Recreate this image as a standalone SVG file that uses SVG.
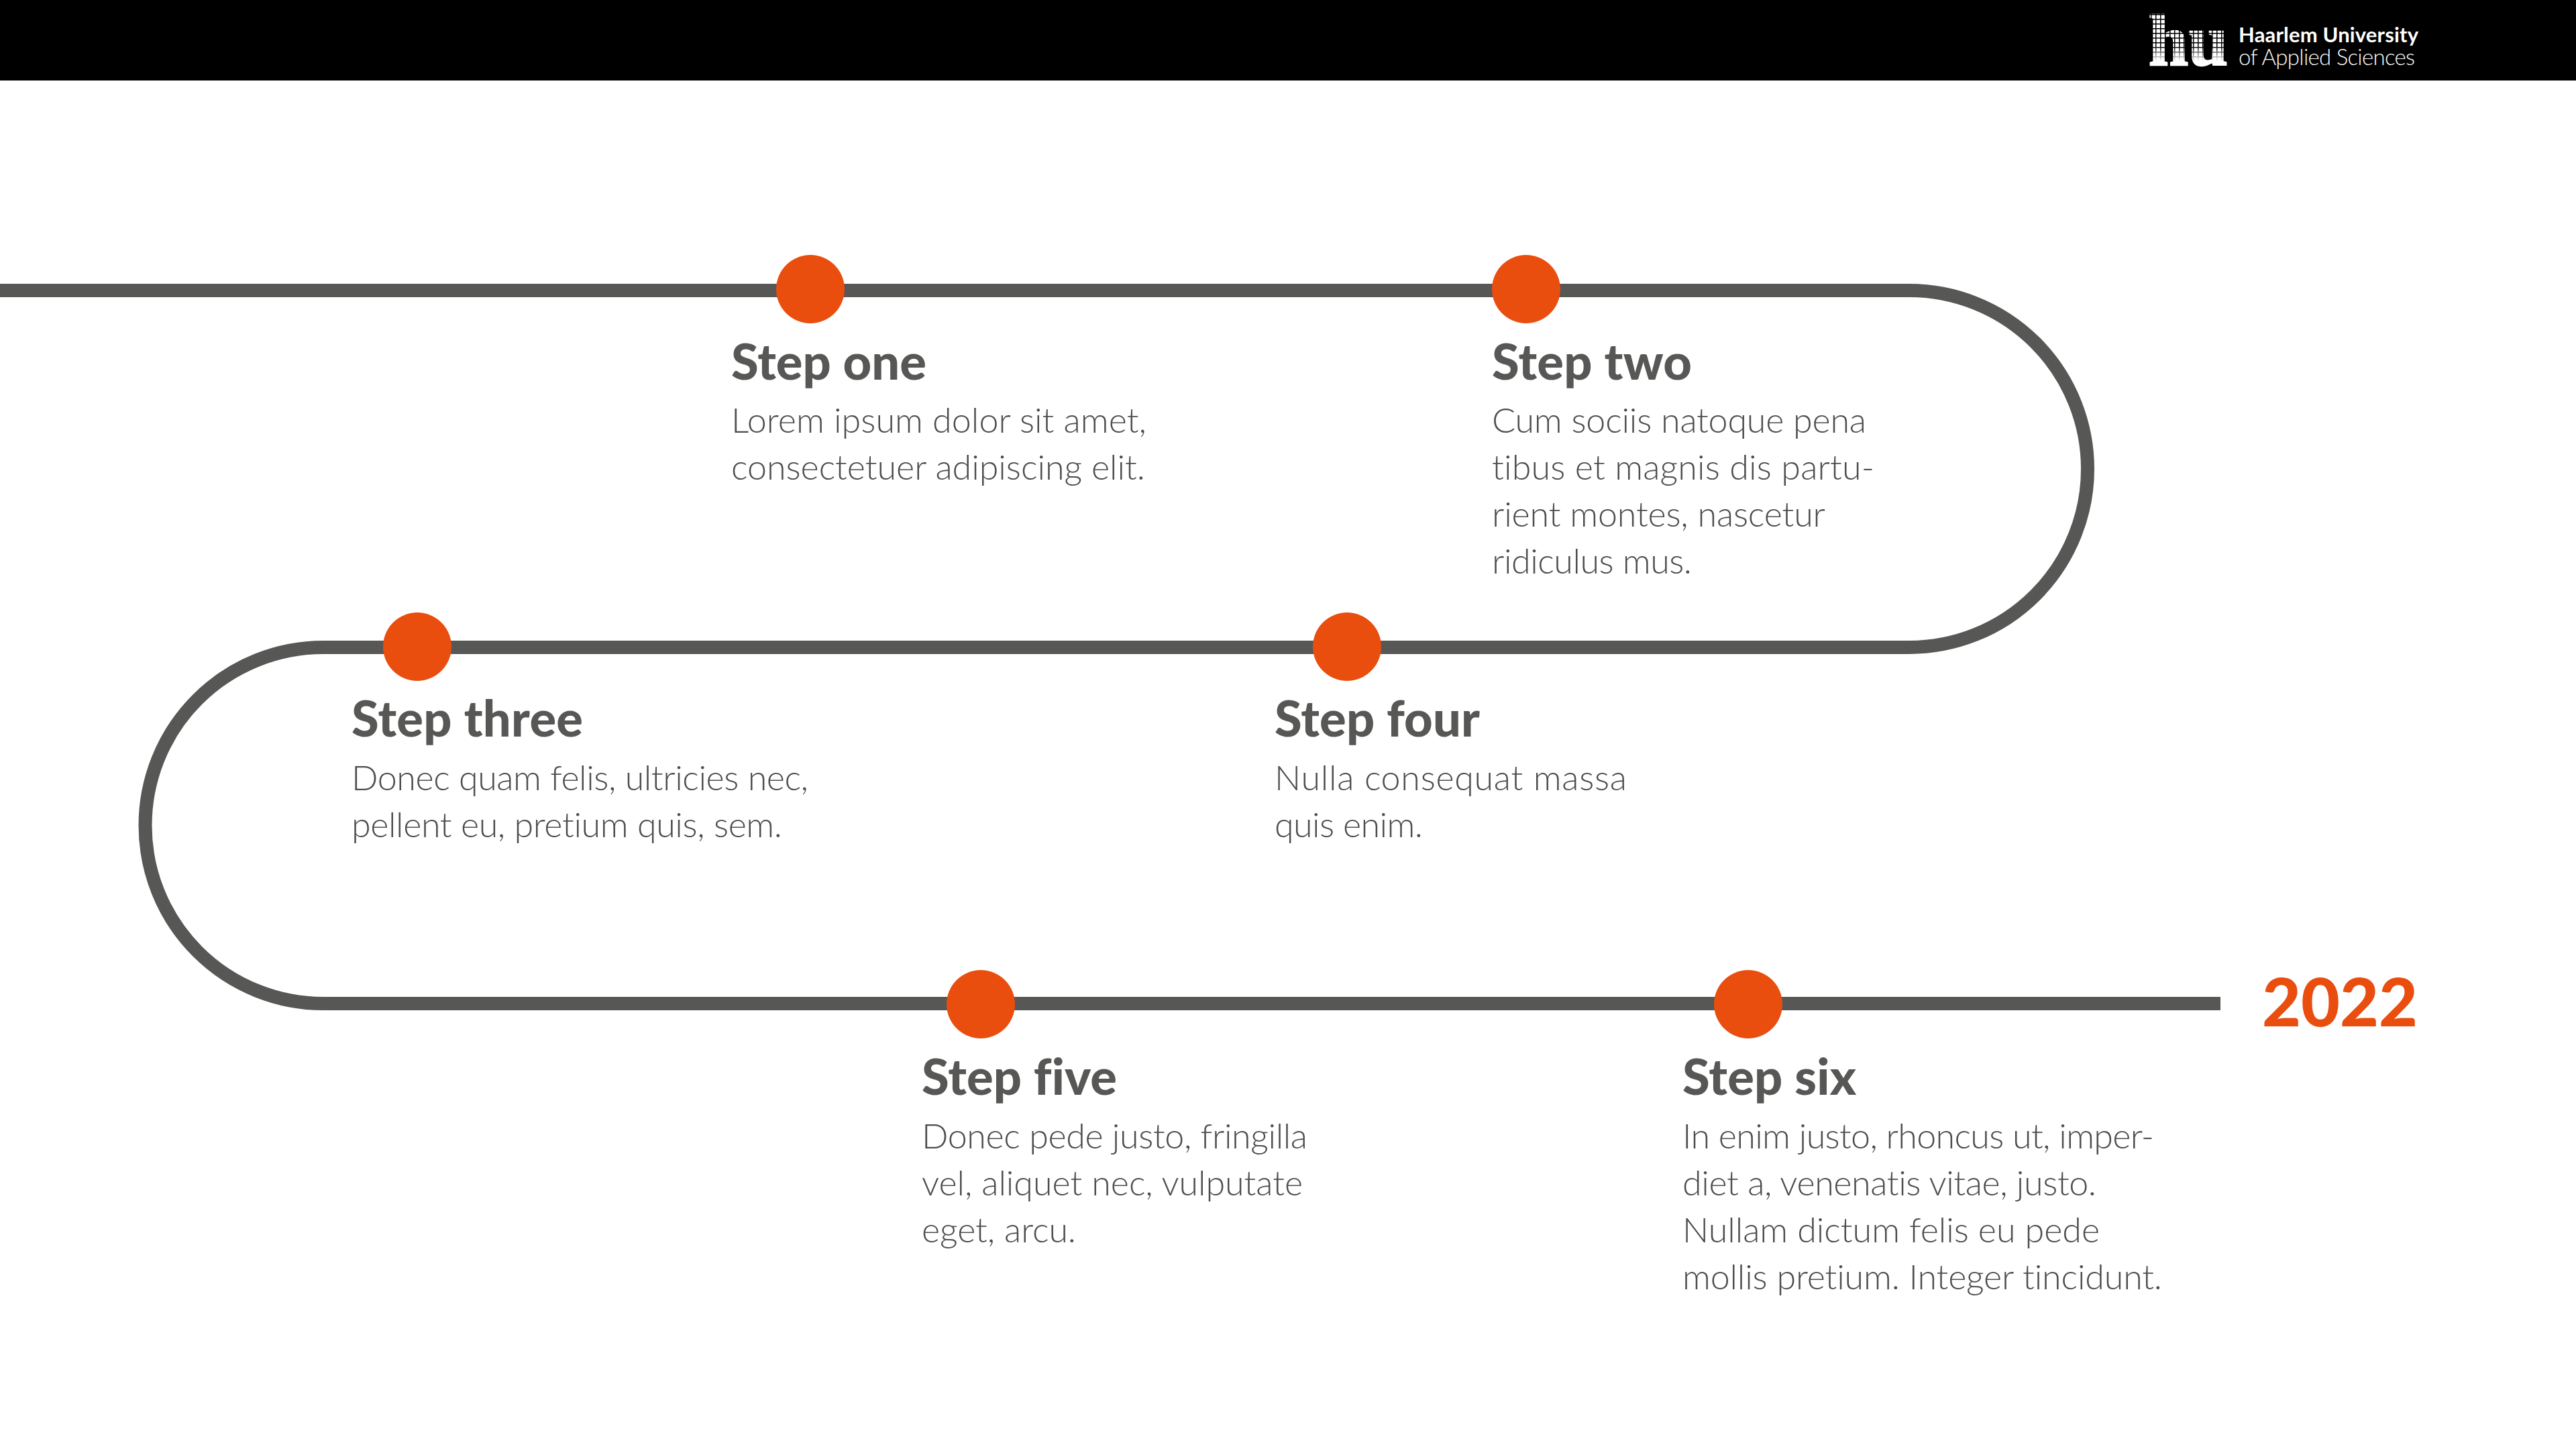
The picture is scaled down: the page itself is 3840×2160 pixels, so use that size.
<svg xmlns="http://www.w3.org/2000/svg" width="3840" height="2160" viewBox="0 0 3840 2160">
<style>
text{font-variant-ligatures:none}
.dot{fill:#E94E0F}
.h{font-family:"Lato","Liberation Sans",sans-serif;font-weight:900;font-size:74px;fill:#575756}
.b{font-family:"Lato","Liberation Sans",sans-serif;font-weight:300;font-size:52px;fill:#4d4d4c}
.y{font-family:"Lato","Liberation Sans",sans-serif;font-weight:900;font-size:100px;fill:#E94E0F}
.line{fill:none;stroke:#575756;stroke-width:20}
</style>
<defs>
<pattern id="grid" width="7" height="7" patternUnits="userSpaceOnUse"><path d="M0 0H7M0 0V7" stroke="#000" stroke-width="3" fill="none"/></pattern>
<linearGradient id="fade" x1="0" y1="0" x2="0" y2="1"><stop offset="0.6" stop-color="#fff"/><stop offset="0.85" stop-color="#000"/></linearGradient>
<mask id="fm" maskUnits="userSpaceOnUse" x="3195" y="15" width="135" height="90"><rect x="3195" y="15" width="135" height="90" fill="url(#fade)"/></mask>
</defs>
<rect id="header" x="0" y="0" width="3840" height="120" fill="#000"/>
<g id="logo">
<text x="3203" y="97" font-family="'Liberation Serif',serif" font-weight="700" font-size="108" fill="#fff" stroke="#fff" stroke-width="2.5" textLength="118" lengthAdjust="spacingAndGlyphs">hu</text>
<rect x="3195" y="15" width="135" height="90" fill="url(#grid)" mask="url(#fm)"/>
<text x="3337" y="63" font-family="'Lato','Liberation Sans',sans-serif" font-weight="700" font-size="31" fill="#fff" textLength="268">Haarlem University</text>
<text x="3337" y="97" font-family="'Lato','Liberation Sans',sans-serif" font-weight="300" font-size="33" fill="#fff" textLength="263">of Applied Sciences</text>
</g>
<g id="connectors">
<path class="line" d="M0 433H2846A266 266 0 0 1 2846 965H482A265.5 265.5 0 0 0 482 1496H3310"/>
</g>
<g id="step1"><circle class="dot" cx="1208" cy="431" r="51"/>
<text class="h" x="1090" y="566" textLength="291">Step one</text>
<text class="b" x="1090" y="645" textLength="619">Lorem ipsum dolor sit amet,</text>
<text class="b" x="1090" y="715" textLength="617">consectetuer adipiscing elit.</text></g>
<g id="step2"><circle class="dot" cx="2275" cy="431" r="51"/>
<text class="h" x="2224" y="566" textLength="298">Step two</text>
<text class="b" x="2224" y="645" textLength="558">Cum sociis natoque pena</text>
<text class="b" x="2224" y="715" textLength="570">tibus et magnis dis partu-</text>
<text class="b" x="2224" y="785" textLength="497">rient montes, nascetur</text>
<text class="b" x="2224" y="855" textLength="298">ridiculus mus.</text></g>
<g id="step3"><circle class="dot" cx="622" cy="964" r="51"/>
<text class="h" x="524" y="1098" textLength="345">Step three</text>
<text class="b" x="524" y="1178" textLength="681">Donec quam felis, ultricies nec,</text>
<text class="b" x="524" y="1248" textLength="642">pellent eu, pretium quis, sem.</text></g>
<g id="step4"><circle class="dot" cx="2008" cy="964" r="51"/>
<text class="h" x="1900" y="1098" textLength="306">Step four</text>
<text class="b" x="1900" y="1178" textLength="525">Nulla consequat massa</text>
<text class="b" x="1900" y="1248" textLength="221">quis enim.</text></g>
<g id="step5"><circle class="dot" cx="1462" cy="1497" r="51"/>
<text class="h" x="1374" y="1632" textLength="291">Step five</text>
<text class="b" x="1374" y="1712" textLength="575">Donec pede justo, fringilla</text>
<text class="b" x="1374" y="1782" textLength="568">vel, aliquet nec, vulputate</text>
<text class="b" x="1374" y="1852" textLength="230">eget, arcu.</text></g>
<g id="step6"><circle class="dot" cx="2606" cy="1497" r="51"/>
<text class="h" x="2508" y="1632" textLength="259">Step six</text>
<text class="b" x="2508" y="1712" textLength="703">In enim justo, rhoncus ut, imper-</text>
<text class="b" x="2508" y="1782" textLength="617">diet a, venenatis vitae, justo.</text>
<text class="b" x="2508" y="1852" textLength="622">Nullam dictum felis eu pede</text>
<text class="b" x="2508" y="1922" textLength="715">mollis pretium. Integer tincidunt.</text></g>
<text id="year" class="y" x="3372" y="1530" textLength="232">2022</text>
</svg>
